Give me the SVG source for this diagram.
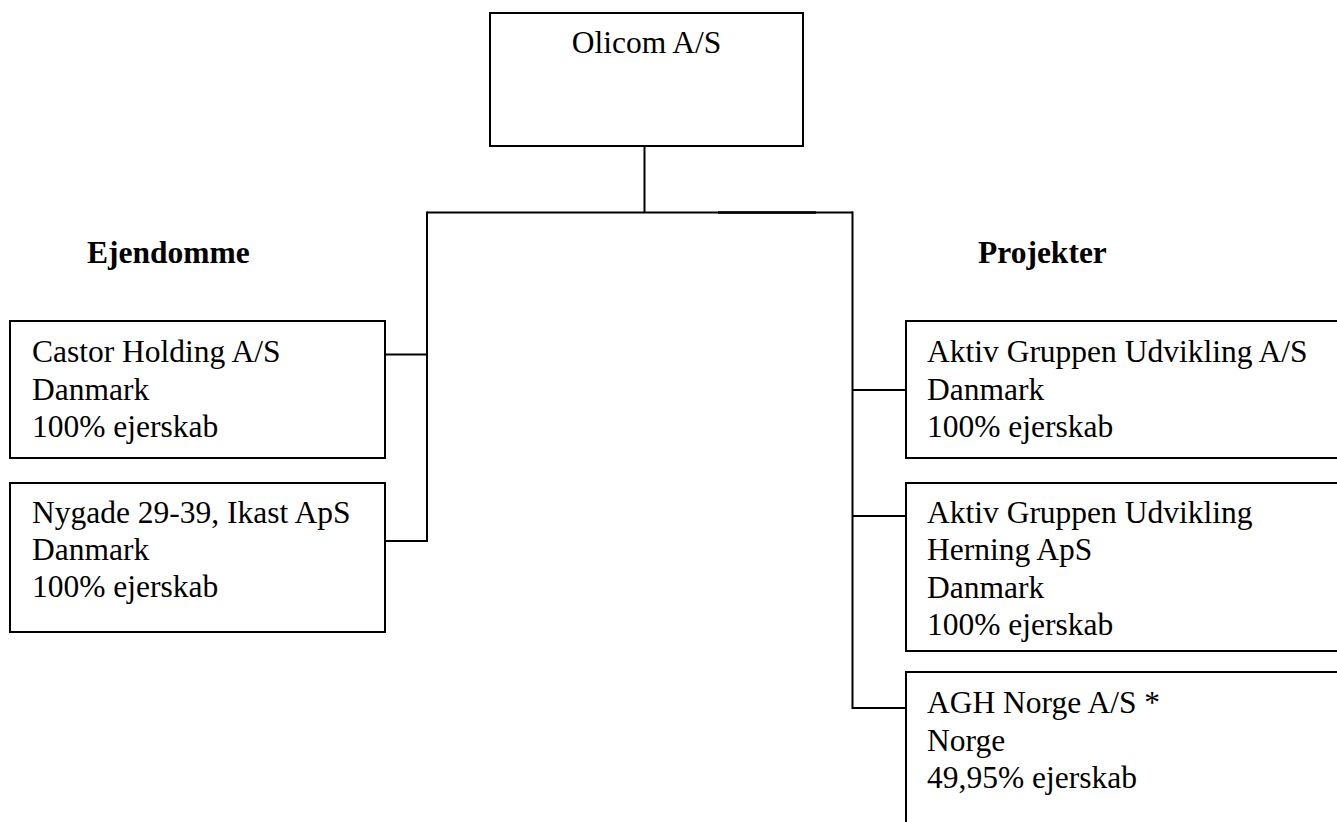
<svg xmlns="http://www.w3.org/2000/svg" width="1337" height="822" viewBox="0 0 1337 822">
<style>
.box{fill:#fff;stroke:#000;stroke-width:2}
.ln{fill:none;stroke:#000;stroke-width:2}
text{font-family:"Liberation Serif","Times New Roman",serif;font-size:31.5px;fill:#000}
.hd{font-weight:bold}
</style>
<rect width="1337" height="822" fill="#fff"/>
<g id="connectors">
<line class="ln" x1="644.5" y1="146" x2="644.5" y2="212.5"/>
<line class="ln" x1="427" y1="212.5" x2="853" y2="212.5"/>
<line x1="718" y1="212.5" x2="816" y2="212.5" stroke="#000" stroke-width="2.6"/>
<line class="ln" x1="427" y1="211.5" x2="427" y2="542"/>
<line class="ln" x1="385" y1="354.5" x2="427" y2="354.5"/>
<line class="ln" x1="385" y1="541" x2="427" y2="541"/>
<line class="ln" x1="852.5" y1="211.5" x2="852.5" y2="709"/>
<line class="ln" x1="852.5" y1="390" x2="906" y2="390"/>
<line class="ln" x1="852.5" y1="516" x2="906" y2="516"/>
<line class="ln" x1="852.5" y1="708" x2="906" y2="708"/>
</g>
<g id="olicom">
<rect class="box" x="490" y="13" width="313" height="133"/>
<text x="646.5" y="53" text-anchor="middle">Olicom A/S</text>
</g>
<g id="hdr-ejendomme"><text class="hd" x="87" y="263">Ejendomme</text></g>
<g id="hdr-projekter"><text class="hd" x="978" y="263">Projekter</text></g>
<g id="castor">
<rect class="box" x="10" y="321" width="375" height="137"/>
<text x="32" y="362">Castor Holding A/S</text>
<text x="32" y="399.5">Danmark</text>
<text x="32" y="437">100% ejerskab</text>
</g>
<g id="nygade">
<rect class="box" x="10" y="483" width="375" height="149"/>
<text x="32" y="523">Nygade 29-39, Ikast ApS</text>
<text x="32" y="560">Danmark</text>
<text x="32" y="597">100% ejerskab</text>
</g>
<g id="aktiv-as">
<rect class="box" x="906" y="321" width="440" height="137"/>
<text x="927" y="362">Aktiv Gruppen Udvikling A/S</text>
<text x="927" y="399.5">Danmark</text>
<text x="927" y="437">100% ejerskab</text>
</g>
<g id="aktiv-herning">
<rect class="box" x="906" y="483" width="440" height="168"/>
<text x="927" y="523">Aktiv Gruppen Udvikling</text>
<text x="927" y="560">Herning ApS</text>
<text x="927" y="597.5">Danmark</text>
<text x="927" y="635">100% ejerskab</text>
</g>
<g id="agh-norge">
<rect class="box" x="906" y="672" width="440" height="170"/>
<text x="927" y="713">AGH Norge A/S *</text>
<text x="927" y="750.5">Norge</text>
<text x="927" y="788">49,95% ejerskab</text>
</g>
</svg>
